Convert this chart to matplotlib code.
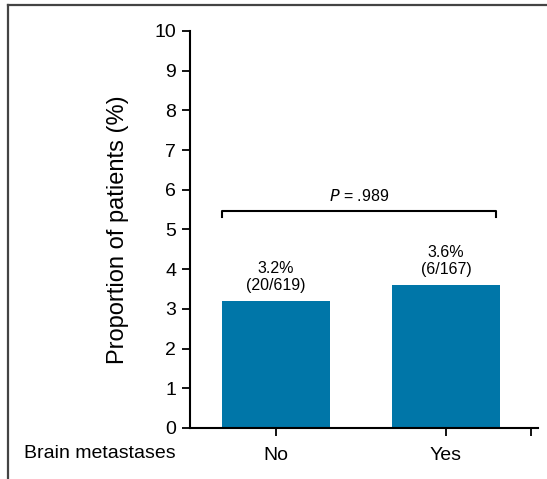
import matplotlib
matplotlib.use('Agg')
import matplotlib.pyplot as plt
from matplotlib.lines import Line2D

plt.rcParams['font.family'] = ['Liberation Sans', 'DejaVu Sans']

groups = ['No', 'Yes']
pct = [3.2, 3.6]
counts = ['(20/619)', '(6/167)']
p_text = '.989'
bar_color = '#0076a8'

fig = plt.figure(figsize=(5.47, 4.79), dpi=100)
W, H = 547, 479
ax = fig.add_axes([190 / W, 1 - 428 / H, (538 - 190) / W, (428 - 31) / H])

x = list(range(len(groups)))
ax.bar(x, pct, width=0.63, color=bar_color, zorder=2)

for xi, v, c in zip(x, pct, counts):
    ax.text(xi, v + 0.2, f'{v}%\n{c}', ha='center', va='bottom',
            fontsize=11.5, linespacing=1.15)

# bracket over both bars
by = 5.47
left, right = x[0] - 0.315, x[1] + 0.295
ax.plot([left, left, right, right], [by - 0.15, by, by, by - 0.15],
        color='black', lw=1.5, clip_on=False)
ax.text((left + right) / 2, by + 0.17, r'$\it{P}$' + f' = {p_text}',
        ha='center', va='bottom', fontsize=11.5)

ax.set_xlim(-0.506, 1.541)
ax.set_ylim(0, 10)
ax.set_yticks(range(0, 11))
ax.set_xticks(x + [1.5])
ax.set_xticklabels(groups + [''])
ax.tick_params(axis='both', direction='out', length=6, width=1.3,
               labelsize=14, pad=4)
ax.tick_params(axis='x', pad=8)
for s in ['top', 'right']:
    ax.spines[s].set_visible(False)
for s in ['left', 'bottom']:
    ax.spines[s].set_linewidth(1.5)

ax.set_ylabel('Proportion of patients (%)', fontsize=17, labelpad=18)
fig.text(24 / W, 1 - 454 / H, 'Brain metastases', fontsize=14,
         ha='left', va='center')

# outer panel frame (top and left edges)
fig.add_artist(Line2D([8 / W, 8 / W], [0, 1 - 4.5 / H], transform=fig.transFigure,
                      color='#444444', lw=1.6))
fig.add_artist(Line2D([8 / W, 1], [1 - 4.5 / H, 1 - 4.5 / H], transform=fig.transFigure,
                      color='#444444', lw=1.6))

fig.savefig('out.png', dpi=100)
